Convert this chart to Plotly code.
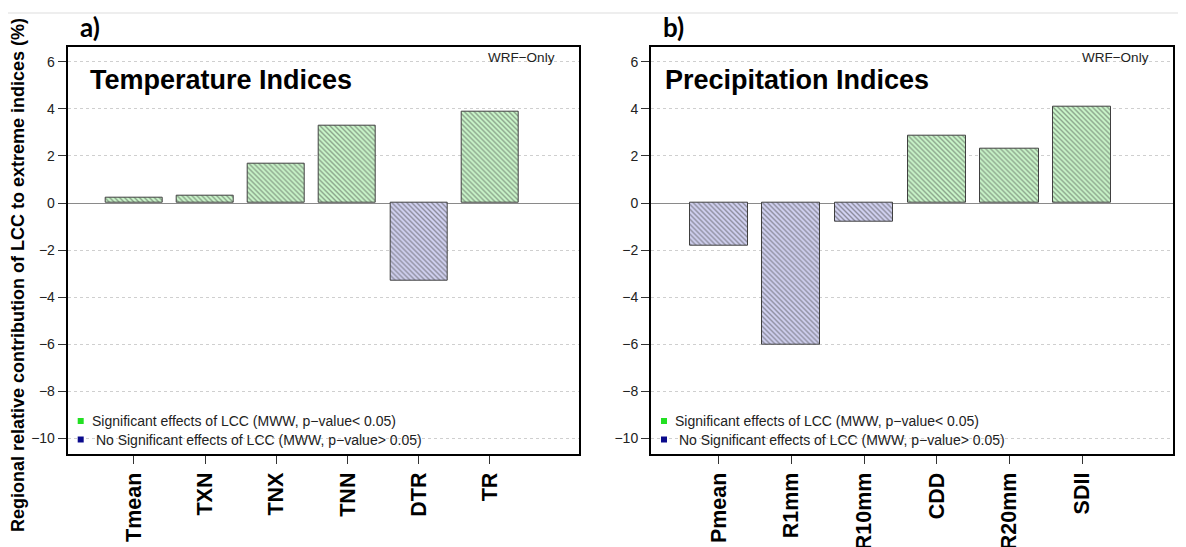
import plotly.graph_objects as go

# ---------------- data ----------------
temp_names = ["Tmean", "TXN", "TNX", "TNN", "DTR", "TR"]
temp_values = [0.23, 0.33, 1.67, 3.29, -3.28, 3.87]
temp_signif = [True, True, True, True, False, True]

prec_names = ["Pmean", "R1mm", "R10mm", "CDD", "R20mm", "SDII"]
prec_values = [-1.83, -6.0, -0.79, 2.88, 2.31, 4.10]
prec_signif = [False, False, False, True, True, True]

y_ticks = [6, 4, 2, 0, -2, -4, -6, -8, -10]

panel_titles = ["Temperature Indices", "Precipitation Indices"]
panel_letters = ["a)", "b)"]
legend_labels = ["Significant effects of LCC (MWW, p\u2212value< 0.05)",
                 " No Significant effects of LCC (MWW, p\u2212value> 0.05)"]
y_title = "Regional relative contribution of LCC to extreme indices (%)"

# ---------------- styling ----------------
OFF = 8  # default page body margin
W, H = 1186 - OFF, 547 - OFF
FONT = "Liberation Sans, Arial, sans-serif"
GREEN_BG, GREEN_FG = "#cbf8cb", "#6edc6e"
BLUE_BG, BLUE_FG = "#d2d2f2", "#6262c2"


def px(x):
    return (x - OFF) / W


def py(y):
    return 1 - (y - OFF) / H


fig = go.Figure()

panels = [
    dict(names=temp_names, values=temp_values, sig=temp_signif,
         xa="x", ya="y", dom=[px(67.7), px(579)], box_l=67.7, box_r=579),
    dict(names=prec_names, values=prec_values, sig=prec_signif,
         xa="x2", ya="y2", dom=[px(651), px(1173)], box_l=651, box_r=1173),
]

ydom = [py(454), py(46.7)]

for k, p in enumerate(panels):
    xs = list(range(len(p["names"])))
    fig.add_trace(go.Bar(
        x=xs, y=p["values"], width=0.8,
        xaxis=p["xa"], yaxis=p["ya"],
        marker=dict(
            color=[GREEN_BG if s else BLUE_BG for s in p["sig"]],
            line=dict(color="#404040", width=1),
            pattern=dict(shape="\\", fgcolor=[GREEN_FG if s else BLUE_FG for s in p["sig"]],
                         size=3.5, solidity=0.4, fillmode="overlay"),
        ),
        showlegend=False, hoverinfo="x+y",
    ))

axis_common_x = dict(
    range=[-0.93, 6.25], showline=True, linewidth=2, linecolor="black", mirror=True,
    ticks="outside", ticklen=8, tickcolor="#333", showgrid=False, zeroline=False,
    tickangle=-90, tickfont=dict(family=FONT, size=21.5, color="black", weight="bold"),
    automargin=False,
)
axis_common_y = dict(
    range=[-10.66, 6.64], domain=ydom, showline=True, linewidth=2, linecolor="black",
    mirror=True, ticks="outside", ticklen=8, tickcolor="#333",
    tickvals=y_ticks, ticktext=[str(v) if v >= 0 else "\u2212" + str(-v) for v in y_ticks],
    tickfont=dict(family=FONT, size=14, color="#222"),
    showgrid=True, gridcolor="#cfcfcf", griddash="dot", gridwidth=1,
    zeroline=True, zerolinecolor="#8a8a8a", zerolinewidth=1,
    automargin=False,
)

fig.update_layout(
    xaxis=dict(axis_common_x, domain=panels[0]["dom"], anchor="y",
               tickvals=list(range(len(temp_names))), ticktext=temp_names),
    yaxis=dict(axis_common_y, anchor="x"),
    xaxis2=dict(axis_common_x, domain=panels[1]["dom"], anchor="y2",
                tickvals=list(range(len(prec_names))), ticktext=prec_names),
    yaxis2=dict(axis_common_y, anchor="x2"),
)

annotations = []
shapes = []
for k, p in enumerate(panels):
    bl = p["box_l"]
    br = p["box_r"]
    # panel letter
    annotations.append(dict(text=panel_letters[k], xref="paper", yref="paper",
                            x=px(bl + 10), y=py(27), xanchor="left", yanchor="middle",
                            showarrow=False,
                            font=dict(family="Lato, Open Sans, sans-serif", size=26,
                                      color="black", weight="bold")))
    # panel title
    annotations.append(dict(text=panel_titles[k], xref="paper", yref="paper",
                            x=px(bl + (20 if k == 0 else 12)), y=py(80), xanchor="left",
                            yanchor="middle", showarrow=False,
                            font=dict(family=FONT, size=27, color="black", weight="bold")))
    # WRF-Only
    annotations.append(dict(text="WRF\u2212Only", xref="paper", yref="paper",
                            x=px(br - 22), y=py(57), xanchor="right", yanchor="middle",
                            showarrow=False, font=dict(family=FONT, size=13.5, color="#222")))
    # legend
    for j, (lab, col) in enumerate(zip(legend_labels, ["#22e022", "#0a0a8c"])):
        yc = 421 + j * 18.5
        xs0 = bl + 10
        shapes.append(dict(type="rect", xref="paper", yref="paper",
                           x0=px(xs0), x1=px(xs0 + 6), y0=py(yc + 3), y1=py(yc - 3),
                           fillcolor=col, line=dict(width=0)))
        annotations.append(dict(text=lab, xref="paper", yref="paper",
                                x=px(xs0 + 12), y=py(yc), xanchor="left", yanchor="middle",
                                showarrow=False,
                                font=dict(family=FONT, size=14, color="#222")))

# y axis title
annotations.append(dict(text="<b>" + y_title + "</b>", xref="paper", yref="paper",
                        x=px(18), y=py(275), xanchor="center", yanchor="middle",
                        textangle=-90, showarrow=False,
                        font=dict(family=FONT, size=18, color="black")))

# faint screenshot line at top
shapes.append(dict(type="line", xref="paper", yref="paper", x0=px(8), x1=1,
                   y0=py(13), y1=py(13), line=dict(color="#dddddd", width=1)))

fig.update_layout(
    width=W, height=H, margin=dict(l=0, r=0, t=0, b=0),
    paper_bgcolor="white", plot_bgcolor="white",
    annotations=annotations, shapes=shapes, showlegend=False,
    bargap=0,
)

fig.write_html("out.html")
